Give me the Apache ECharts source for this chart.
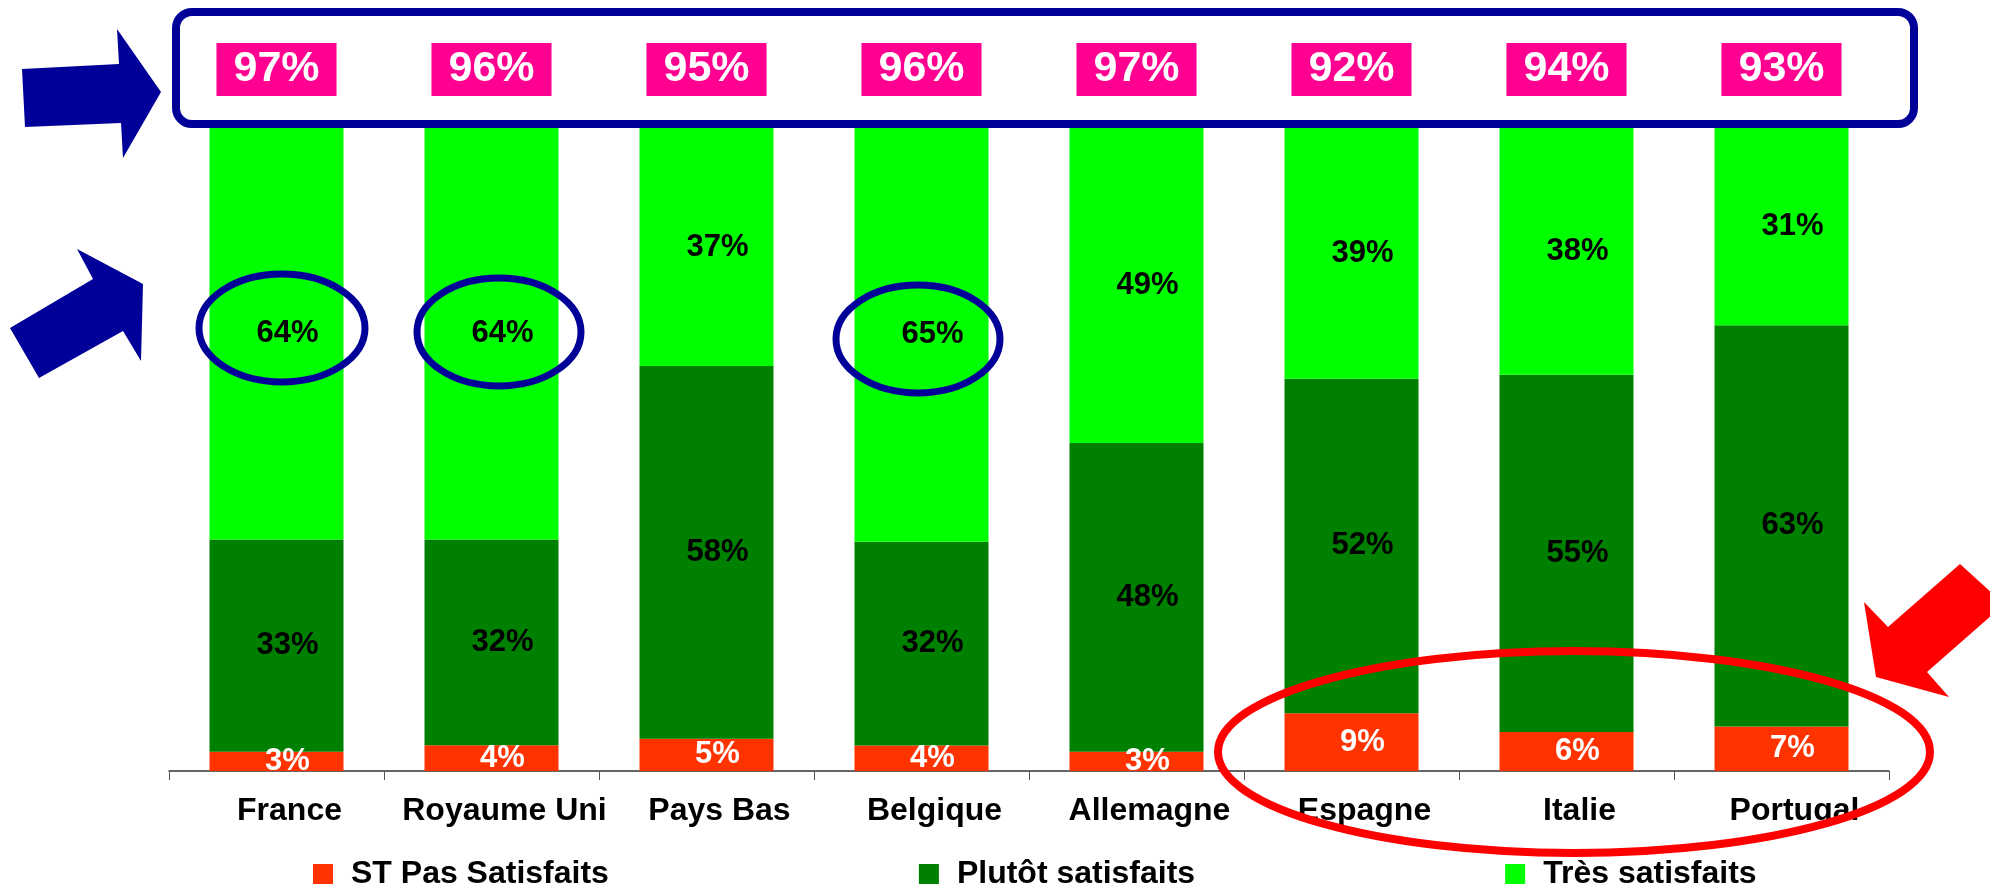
<!DOCTYPE html>
<html>
<head>
<meta charset="utf-8">
<script src="https://cdn.jsdelivr.net/npm/echarts@6/dist/echarts.min.js"></script>
<style>
  html, body { margin: 0; padding: 0; background: #fff; }
  #chart { width: 1990px; height: 889px; }
</style>
</head>
<body>
<div id="chart"></div>
<script>
// categories and values
const categories = ["France", "Royaume Uni", "Pays Bas", "Belgique", "Allemagne", "Espagne", "Italie", "Portugal"];
const pasSatisfaits = [3, 4, 5, 4, 3, 9, 6, 7];
const plutotSatisfaits = [33, 32, 58, 32, 48, 52, 55, 63];
const tresSatisfaits = [64, 64, 37, 65, 49, 39, 38, 31];
const totalSatisfaits = [97, 96, 95, 96, 97, 92, 94, 93];
const seriesNames = ["ST Pas Satisfaits", "Plutôt satisfaits", "Très satisfaits"];

const FONT = "'Liberation Sans', Arial, sans-serif";
const BLUE = "#000099";
const RED = "#ff0000";

// 100% stacked, like the original spreadsheet chart
const toShare = (arr) => arr.map((v, i) => {
  const sum = pasSatisfaits[i] + plutotSatisfaits[i] + tresSatisfaits[i];
  return { value: v / sum * 100, raw: v };
});

const makeSeries = (name, arr, color, labelColor) => ({
  name: name,
  type: "bar",
  stack: "total",
  barWidth: 134,
  data: toShare(arr),
  itemStyle: { color: color },
  label: {
    show: true,
    position: "inside",
    offset: [11, 0],
    color: labelColor,
    fontFamily: FONT,
    fontWeight: "bold",
    fontSize: 31,
    formatter: (p) => p.data.raw + "%"
  }
});

const chart = echarts.init(document.getElementById("chart"), null, { renderer: "canvas" });

const option = {
  animation: false,
  backgroundColor: "#fff",
  textStyle: { fontFamily: FONT },
  grid: { left: 169, right: 101, top: 128, bottom: 118 },
  legend: {
    data: seriesNames,
    left: 308,
    top: 853,
    icon: "rect",
    itemWidth: 20,
    itemHeight: 20,
    itemGap: 310,
    textStyle: {
      fontFamily: FONT,
      fontWeight: "bold",
      fontSize: 32,
      color: "#000",
      padding: [0, 0, 0, 13]
    }
  },
  xAxis: [
    {
      type: "category",
      data: categories,
      axisLine: { lineStyle: { color: "#333", width: 1.5 } },
      axisTick: { show: true, length: 9, lineStyle: { color: "#555" } },
      axisLabel: {
        interval: 0,
        margin: 24,
        color: "#000",
        fontFamily: FONT,
        fontWeight: "bold",
        fontSize: 32,
        padding: [0, 0, 0, 26]
      }
    },
    {
      type: "category",
      position: "top",
      data: categories,
      axisLine: { show: false },
      axisTick: { show: false },
      axisLabel: {
        interval: 0,
        margin: 32,
        color: "#fff",
        fontFamily: FONT,
        fontWeight: "bold",
        fontSize: 43,
        backgroundColor: "#ff0090",
        padding: [5, 17, 5, 17],
        formatter: (v, i) => totalSatisfaits[i] + "%"
      }
    }
  ],
  yAxis: { type: "value", min: 0, max: 100, show: false },
  series: [
    makeSeries(seriesNames[0], pasSatisfaits, "#ff3300", "#fff"),
    makeSeries(seriesNames[1], plutotSatisfaits, "#008000", "#000"),
    makeSeries(seriesNames[2], tresSatisfaits, "#00ff00", "#000")
  ],
  // annotations drawn over the chart
  graphic: [
    {
      type: "rect", z: 100,
      shape: { x: 176, y: 12, width: 1738, height: 112, r: 16 },
      style: { fill: "none", stroke: BLUE, lineWidth: 8 }
    },
    {
      type: "polygon", z: 100,
      shape: { points: [[22, 69], [119, 64], [117, 29], [161, 92], [123, 158], [121, 123], [25, 127]] },
      style: { fill: BLUE }
    },
    {
      type: "polygon", z: 100,
      shape: { points: [[143, 284], [77, 249], [93, 279], [10, 328], [39, 378], [123, 331], [141, 361]] },
      style: { fill: BLUE }
    },
    { type: "ellipse", z: 100, shape: { cx: 282, cy: 328, rx: 83, ry: 54 }, style: { fill: "none", stroke: BLUE, lineWidth: 7 } },
    { type: "ellipse", z: 100, shape: { cx: 499, cy: 332, rx: 82, ry: 54 }, style: { fill: "none", stroke: BLUE, lineWidth: 7 } },
    { type: "ellipse", z: 100, shape: { cx: 918, cy: 339, rx: 82, ry: 54 }, style: { fill: "none", stroke: BLUE, lineWidth: 7 } },
    { type: "ellipse", z: 100, shape: { cx: 1574, cy: 752, rx: 356, ry: 101 }, style: { fill: "none", stroke: RED, lineWidth: 8 } },
    {
      type: "polygon", z: 100,
      shape: { points: [[1960, 564], [1992, 593], [1992, 615], [1927, 672], [1949, 697], [1876, 677], [1864, 602], [1888, 627]] },
      style: { fill: RED }
    }
  ]
};

chart.setOption(option);
</script>
</body>
</html>
